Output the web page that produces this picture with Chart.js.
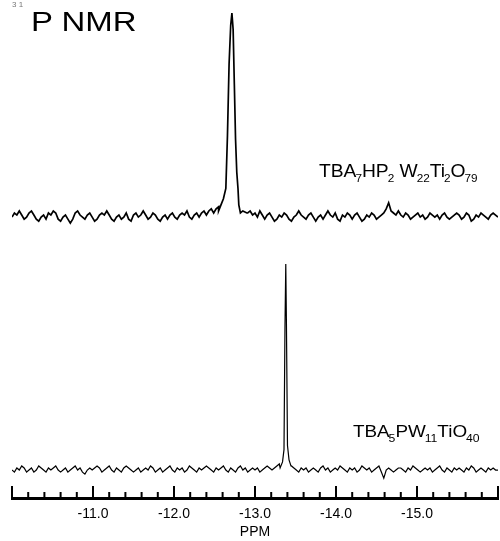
<!DOCTYPE html>
<html>
<head>
<meta charset="utf-8">
<script src="https://cdn.jsdelivr.net/npm/chart.js@4"></script>
<style>
  body { margin: 0; background: #fff; }
  #wrap { position: relative; width: 500px; height: 541px; font-family: "Liberation Sans", Arial, sans-serif; }
  .txt { position: absolute; line-height: 1; white-space: nowrap; color: #000; transform-origin: 0 0; }
  .sb { font-size: 11px; position: relative; top: 5px; margin-left: -1px; }
</style>
</head>
<body>
<div id="wrap">
  <canvas id="nmr" width="500" height="541"></canvas>
  <div class="txt" style="left:12px;top:1px;font-size:8px;color:#777;">3 1</div>
  <div class="txt" style="left:31px;top:9px;font-size:27px;transform:scaleX(1.22);">P NMR</div>
  <div class="txt" style="left:319px;top:162px;font-size:18px;transform:scaleX(1.07);">TBA<span class="sb">7</span>HP<span class="sb">2</span> W<span class="sb">22</span>Ti<span class="sb">2</span>O<span class="sb">79</span></div>
  <div class="txt" style="left:353px;top:423px;font-size:17px;transform:scaleX(1.11);">TBA<span class="sb">5</span>PW<span class="sb">11</span>TiO<span class="sb">40</span></div>
</div>
<script>
// sampling grid of the baselines (ppm)
const noiseStart = -10.0;
const noiseStep = -0.03;

// TBA7HP2W22Ti2O79 - baseline noise, one value per grid point (-10.00 ... -16.00)
const topNoise = [
    0, 2, 1, 3, 1, -1, 0, 2, 3, 1, -1, -2, 0, 1, -1, 2, 1, 3, 2, -1,
    -2, 0, 1, -1, -3, -1, 2, 3, 1, 0, -1, 1, 2, 0, -2, -1, 1, 2, 1, 3,
    1, -1, -2, 0, 1, -1, 0, 2, -1, -2, 1, 2, 0, 1, 3, 1, -1, 0, 2, 1,
    -1, -2, 0, 1, -1, 1, 2, 0, -1, 1, 2, 1, 3, 0, -1, 1, 2, 0, 2, 3,
    1, 3, 4, 2, 4, 5, 6, 8, 10, 12, 10, 8, 6, 4, 3, 3, 4, 2, 3, 1,
    2, 0, 3, 1, -1, 1, 2, 0, -2, -1, 1, 0, 2, 1, -1, -2, 0, 1, 3, 1,
    0, -1, 1, 2, 0, -2, 0, 1, -1, 1, 3, 1, 0, 2, -1, -2, 1, 0, 2, 1,
    -1, 1, 2, 0, -2, -1, 1, 0, 2, 1, -1, 0, 1, 2, 4, 7, 3, 2, 1, 3,
    1, 0, 2, 1, -1, 0, 1, 2, 0, 1, -1, 0, 2, 1, 0, 1, -1, 1, 2, 0,
    -1, 0, 1, 2, 1, -1, 0, 2, 1, -2, -1, 1, 0, 2, 1, 0, -1, 1, 2, 1,
    0
];
// peak of the upper spectrum
const topPeakPpm = [-12.55, -12.58, -12.61, -12.64, -12.66, -12.68, -12.70, -12.715, -12.73, -12.745, -12.76, -12.775, -12.79, -12.80, -12.82, -12.85, -12.90];
const topPeakInt = [3, 6, 9, 14, 40, 75, 94, 100, 92, 65, 38, 22, 14, 6, 2, 3, 2];

// TBA5PW11TiO40 - baseline noise
const bottomNoise = [
    0, -1, 1, 0, 2, 1, -1, 0, 1, -1, 0, 2, 1, 0, -1, 1, 0, 1, 2, 0,
    -1, 0, 1, -1, 0, 1, 2, 0, 1, -1, -2, 0, 1, 0, 1, 2, 1, -1, 0, 1,
    2, 0, -1, 1, 0, -1, 1, 2, 1, 0, -1, 0, 1, -1, 0, 1, 0, 2, 1, -1,
    0, 1, -1, 0, 1, 2, 0, -1, 1, 0, 1, -1, 0, 2, 1, 0, -1, 1, 0, 1,
    2, 1, 0, -1, 1, 0, 1, 2, 0, -1, 1, 0, -1, 1, 2, 0, 1, -1, 0, 1,
    0, 1, -1, 0, 1, 2, 1, 0, 1, 2, 3, 4, 5, 4, 3, 2, 1, 0, -1, 1,
    0, 1, -1, 0, 1, 0, -1, 1, 2, 0, 1, -1, 0, 1, 0, 2, 1, 0, -1, 1,
    0, 1, -1, 0, 2, 1, 0, 1, -1, 0, 1, 2, -1, -4, 0, 1, 0, -1, 0, 1,
    1, 0, -1, 1, 0, 2, 1, 0, -1, 0, 1, 0, 1, -1, 0, 1, 2, 0, -1, 1,
    0, -1, 1, 0, 1, 0, -1, 1, 0, 2, 1, -1, 0, 1, 0, -1, 1, 0, 1, 0,
    0
];
const bottomPeakPpm = [-13.31, -13.34, -13.358, -13.37, -13.38, -13.388, -13.401, -13.42, -13.444];
const bottomPeakInt = [1, 4, 10, 70, 101, 72, 12, 5, 2];

// x axis ticks
const axisMin = -16.0;
const axisMax = -10.0;
const minorStep = 0.2;
const labelledTicks = [-11, -12, -13, -14, -15];

// offset of the upper trace above the lower one (intensity units)
const stackOffset = 124;

function buildTrace(noise, peakPpm, peakInt, offset) {
    const lo = Math.min(...peakPpm), hi = Math.max(...peakPpm);
    const pts = [];
    noise.forEach((v, i) => {
        const ppm = +(noiseStart + i * noiseStep).toFixed(3);
        if (ppm > lo && ppm < hi) return;
        pts.push({ x: ppm, y: v + offset });
    });
    peakPpm.forEach((p, i) => pts.push({ x: p, y: peakInt[i] + offset }));
    pts.sort((a, b) => b.x - a.x);
    return pts;
}

// tick marks pointing up into the plot
const innerTicks = {
    id: 'innerTicks',
    afterDatasetsDraw(chart) {
        const xs = chart.scales.x;
        const ctx = chart.ctx;
        const base = chart.chartArea.bottom;
        ctx.save();
        ctx.strokeStyle = '#000';
        ctx.lineWidth = 2;
        xs.ticks.forEach(t => {
            const px = xs.getPixelForValue(t.value);
            const major = Math.abs(t.value - Math.round(t.value)) < 1e-6;
            ctx.beginPath();
            ctx.moveTo(px, base);
            ctx.lineTo(px, base - (major ? 12 : 6));
            ctx.stroke();
        });
        ctx.restore();
    }
};

const ctx = document.getElementById('nmr').getContext('2d');
new Chart(ctx, {
    type: 'line',
    data: {
        datasets: [{
            label: 'TBA7HP2W22Ti2O79',
            data: buildTrace(topNoise, topPeakPpm, topPeakInt, stackOffset),
            borderColor: '#000',
            borderWidth: 1.7,
            pointRadius: 0,
            tension: 0
        }, {
            label: 'TBA5PW11TiO40',
            data: buildTrace(bottomNoise, bottomPeakPpm, bottomPeakInt, 0),
            borderColor: '#000',
            borderWidth: 1.2,
            pointRadius: 0,
            tension: 0
        }]
    },
    options: {
        responsive: false,
        animation: false,
        parsing: false,
        layout: { padding: { top: 10, left: 12, right: 2, bottom: 0 } },
        plugins: { legend: { display: false }, tooltip: { enabled: false } },
        scales: {
            x: {
                type: 'linear',
                reverse: true,
                min: axisMin,
                max: axisMax,
                afterFit: (scale) => {
                    scale.height = 43;
                    scale.paddingLeft = 0;
                    scale.paddingRight = 0;
                },
                grid: { display: false, drawTicks: false },
                border: { display: true, width: 3, color: '#000' },
                ticks: {
                    stepSize: minorStep,
                    autoSkip: false,
                    maxRotation: 0,
                    padding: 8,
                    color: '#000',
                    font: { family: 'Liberation Sans', size: 14 },
                    callback: (v) => labelledTicks.some(l => Math.abs(l - v) < 1e-6) ? v.toFixed(1) : ''
                },
                title: {
                    display: true,
                    text: 'PPM',
                    color: '#000',
                    font: { family: 'Liberation Sans', size: 14 },
                    padding: 0
                }
            },
            y: {
                display: false,
                min: -13.7,
                max: 225.5
            }
        }
    },
    plugins: [innerTicks]
});
</script>
</body>
</html>
